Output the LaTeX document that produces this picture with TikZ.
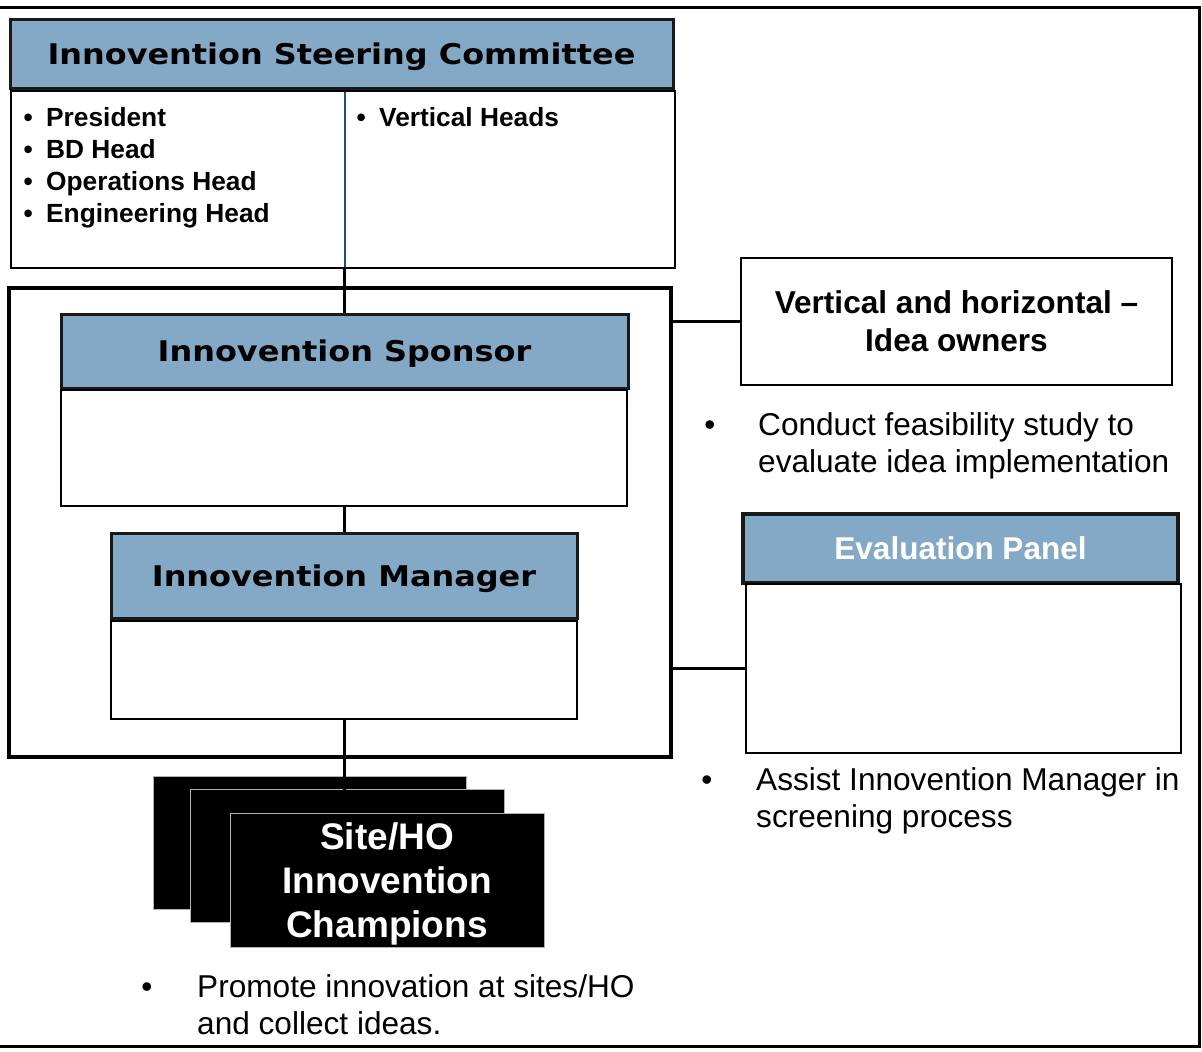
\documentclass[tikz,border=0pt]{standalone}
\usepackage{fontspec}
\setmainfont{Liberation Sans}
\newfontfamily\verd[FakeStretch=1.12]{DejaVu Sans}
\definecolor{hdrblue}{HTML}{84A9C6}
\definecolor{divblue}{HTML}{1F4E79}
\tikzset{
  hdr/.style={draw=black!90, line width=3pt, fill=hdrblue, inner sep=0pt,
    text depth=0pt, font=\verd\bfseries\fontsize{28.5}{34}\selectfont},
  bodybox/.style={draw=black, line width=2pt, fill=white, inner sep=0pt},
  champ/.style={fill=black, draw=gray!60, line width=1pt, inner sep=0pt},
  conn/.style={line width=3pt, draw=black},
  memtxt/.style={inner sep=0pt, anchor=base west, align=left,
    font=\bfseries\fontsize{26.3}{32}\selectfont},
  bigtxt/.style={inner sep=0pt, anchor=base west, align=left,
    font=\fontsize{31.6}{37.5}\selectfont},
  bul/.style={inner sep=0pt, anchor=base, font=\fontsize{31.5}{37.5}\selectfont},
}
\newcommand{\mb}{\makebox[22.5pt][l]{•}}
\begin{document}
\begin{tikzpicture}[x=1pt,y=-1pt]
\useasboundingbox (0,0) rectangle (1202,1052);
% outer frame
\draw[line width=3pt] (0,7) -- (1199.5,7) -- (1199.5,1046) -- (0,1046);

% steering committee
\node[hdr, minimum width=663pt, minimum height=69pt] (isc) at (341.5,53.5) {Innovention Steering Committee};
\node[bodybox, minimum width=664pt, minimum height=177pt] (mem) at (343,179.5) {};
\draw[divblue, line width=1.5pt] (345,92) -- (345,267);
% multi-line nodes: base anchor = baseline of the last line
\node[memtxt] (memL) at (23.5,222) {\mb President\\\mb BD Head\\\mb Operations Head\\\mb Engineering Head};
\node[memtxt] (memR) at (356.5,126) {\mb Vertical Heads};

% container
\node[draw=black, line width=3.5pt, minimum width=662pt, minimum height=469pt, inner sep=0pt] (cont) at (340,522.5) {};

% sponsor
\node[hdr, minimum width=567pt, minimum height=74pt] (spon) at (344.5,351) {Innovention Sponsor};
\node[bodybox, minimum width=566pt, minimum height=116pt] (sponb) at (344,448) {};
% manager
\node[hdr, minimum width=466pt, minimum height=85pt] (mgr) at (344,575.5) {Innovention Manager};
\node[bodybox, minimum width=466pt, minimum height=98pt] (mgrb) at (344,670) {};

% idea owners
\node[bodybox, minimum width=431pt, minimum height=127pt, align=center,
  font=\bfseries\fontsize{31.6}{38}\selectfont] (idea) at (956.5,321.5) {Vertical and horizontal --\\Idea owners};
% evaluation panel
\node[hdr, line width=3.5pt, minimum width=435pt, minimum height=69pt, text=white,
  font=\bfseries\fontsize{31.5}{38}\selectfont] (eval) at (960.5,548.5) {Evaluation Panel};
\node[bodybox, minimum width=435pt, minimum height=169pt] (evalb) at (963.5,668.5) {};

% champions
\node[champ, minimum width=313pt, minimum height=133pt] (ch1) at (309.5,842.5) {};
\node[champ, minimum width=314pt, minimum height=133pt] (ch2) at (347,855.5) {};
\node[champ, minimum width=314pt, minimum height=134pt] (ch3) at (387,880) {};

% connectors
\draw[conn] (spon.north |- mem.south) -- (spon.north);
\draw[conn] (sponb.south) -- (mgr.north);
\draw[conn] (mgrb.south) -- (mgrb.south |- ch3.north);
\draw[conn] (cont.east |- idea.west) -- (idea.west);
\draw[conn] (cont.east |- evalb.west) -- (evalb.west);

\node[inner sep=0pt, align=center, text=white,
  font=\bfseries\fontsize{37}{44}\selectfont] (chtext) at (387,884) {Site/HO\\Innovention\\Champions};

% bullet texts
\node[bul] (b1) at (710,435) {•};
\node[bigtxt] (t1) at (758,472.5) {Conduct feasibility study to\\evaluate idea implementation};
\node[bul] (b2) at (707,790) {•};
\node[bigtxt] (t2) at (756,827.5) {Assist Innovention Manager in\\screening process};
\node[bul] (b3) at (147,997) {•};
\node[bigtxt] (t3) at (197,1034.5) {Promote innovation at sites/HO\\and collect ideas.};
\end{tikzpicture}
\end{document}
